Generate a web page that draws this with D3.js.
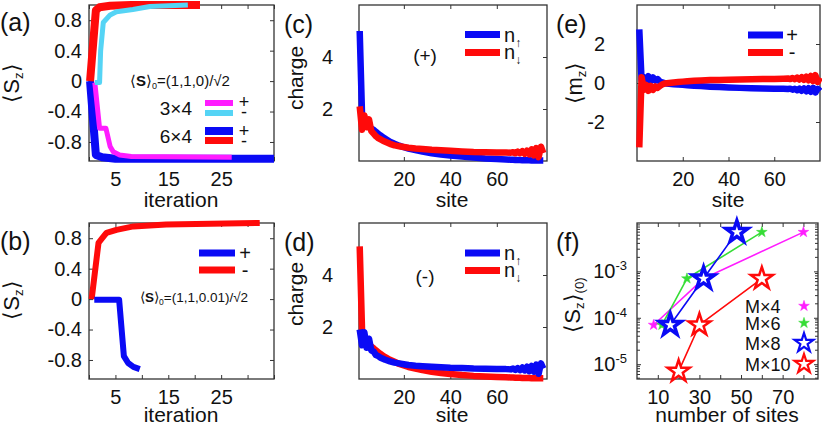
<!DOCTYPE html>
<html><head><meta charset="utf-8">
<script src="https://cdn.jsdelivr.net/npm/d3@7"></script>
<style>
body{margin:0;background:#fff}
svg{display:block}
text{font-family:"Liberation Sans",Arial,Helvetica,sans-serif;fill:#111}
</style>
</head><body>
<svg id="chart" width="822" height="426"></svg>
<script>
// ---------------- data ----------------
// (a) <S>0=(1,1,0)/sqrt2
const aIter3x4Plus  = [1.1, 2.0, 3.2, 4, 4.6, 5.8, 8, 27];
const aVal3x4Plus   = [-0.02, -0.62, -0.62, -0.86, -0.93, -0.97, -0.99, -1.0];
const aIter3x4Minus = [1.1, 2.0, 2.2, 2.7, 4, 5.2, 8.3, 11.5, 18.7];
const aVal3x4Minus  = [-0.02, -0.02, 0.4, 0.77, 0.87, 0.91, 0.94, 0.98, 1.0];
const aIter6x4Plus  = [0.2, 1.3, 2.5, 5, 35];
const aVal6x4Plus   = [0, -0.97, -1.0, -1.02, -1.02];
const aIter6x4Minus = [0.2, 1.3, 2, 4, 8, 21];
const aVal6x4Minus  = [0, 0.93, 0.97, 0.99, 1.0, 1.0];
// (b) <S>0=(1,1,0.01)/sqrt2
const bIterPlus  = [1.0, 5.7, 6.6, 7.4, 8.4, 9.6];
const bValPlus   = [-0.01, -0.01, -0.75, -0.84, -0.89, -0.92];
const bIterMinus = [0.5, 1.8, 2.5, 3.3, 5.2, 8.4, 14.6, 32.3];
const bValMinus  = [0, 0.74, 0.8, 0.87, 0.91, 0.955, 0.98, 1.0];
// sites for (c),(d),(e)
const sites = [1,2,3,4,5,6,7,8,9,10,11,12,14,16,18,20,22,25,28,32,36,40,45,50,55,60,64,66,67,68,69,70,71,72,73,74,75,76,77,78,79,80];
// (c) (+)
const cUp   = [5.0,1.8,1.45,1.35,1.3,1.25,1.2,1.12,1.05,0.98,0.92,0.86, 0.74,0.66,0.59,0.53,0.48,0.42,0.36,0.3,0.25,0.21,0.17,0.13,0.1,0.08,0.06, 0.05,0.05,0.04,0.04,0.04,0.03,0.03,0.03,0.03,0.02,0.02,0.02,0.02,0.02,0.02];
const cDown = [2.1,1.2,1.75,1.3,1.6,1.15,1.05,0.95,0.88,0.83,0.78,0.74, 0.66,0.6,0.57,0.54,0.51,0.48,0.46,0.43,0.41,0.39,0.37,0.35,0.34,0.33,0.33, 0.32,0.34,0.3,0.36,0.3,0.38,0.28,0.4,0.26,0.45,0.22,0.5,0.15,0.55,0.3];
// (d) (-)
const dUp   = [1.9,1.3,1.8,1.2,1.55,1.1,1.05,0.92,0.88,0.82,0.78,0.74, 0.68,0.63,0.6,0.57,0.54,0.51,0.49,0.47,0.45,0.43,0.42,0.4,0.39,0.38,0.38, 0.37,0.4,0.35,0.42,0.34,0.44,0.33,0.47,0.3,0.5,0.28,0.55,0.2,0.6,0.4];
const dDown = [5.1,1.9,1.5,1.4,1.32,1.25,1.18,1.1,1.03,0.96,0.9,0.84, 0.74,0.66,0.58,0.52,0.46,0.4,0.34,0.28,0.23,0.19,0.15,0.12,0.1,0.08,0.07, 0.06,0.06,0.05,0.05,0.05,0.04,0.04,0.04,0.04,0.03,0.03,0.03,0.03,0.03,0.03];
// (e) <m_z>
const ePlus  = [2.75,0.15,0.3,0.05,0.35,0.1,0.28,0.12,0.2,0.08,0.03,-0.01, -0.04,-0.06,-0.08,-0.09,-0.11,-0.14,-0.16,-0.19,-0.21,-0.23,-0.25,-0.27,-0.28,-0.29,-0.3, -0.31,-0.29,-0.34,-0.3,-0.37,-0.29,-0.4,-0.28,-0.42,-0.27,-0.45,-0.25,-0.48,-0.3,-0.42];
const eMinus = [-3.3,0.3,-0.35,-0.1,-0.4,-0.15,-0.35,-0.18,-0.25,-0.15,-0.08,-0.03, 0.0,0.03,0.05,0.07,0.09,0.11,0.13,0.15,0.16,0.17,0.18,0.19,0.2,0.21,0.22, 0.23,0.2,0.26,0.19,0.28,0.18,0.3,0.16,0.33,0.14,0.36,0.1,0.4,0.05,0.28];
// (f) <S_z>(0) vs number of sites
const fSitesM4  = [8, 32, 80];  const fValsM4  = [7e-5, 7e-4, 7e-3];
const fSitesM6  = [12, 24, 60]; const fValsM6  = [7e-5, 7e-4, 7e-3];
const fSitesM8  = [16, 32, 48]; const fValsM8  = [7e-5, 7e-4, 7e-3];
const fSitesM10 = [20, 30, 60]; const fValsM10 = [7e-6, 7e-5, 7e-4];
// tick labels
const aXTicks = [0,5,10,15,20,25,30,35], aXLabels = [5,15,25];
const aYTicks = [-0.8,-0.4,0,0.4,0.8];
const siteTicks = [20,40,60];
const chargeTicks = [2,4];
const mTicks = [-2,0,2];
const fXTicks = [10,20,30,40,50,60,70,80], fXLabels = [10,30,50,70];
const fYMajor = [1e-5,1e-4,1e-3];

// ---------------- colours ----------------
const BLUE="#0a0af5", RED="#ff0a0a", MAG="#ff1cff", CYAN="#55d4f5", GREEN="#36dd36";
const svg = d3.select("#chart");

function panel(o){
  const g = svg.append("g");
  const [x0,x1]=o.x.range(), [y0,y1]=o.y.range();
  const fs = 20;
  const style = sel => { sel.select(".domain").remove(); sel.attr("font-family",null).attr("font-size",fs);
    sel.selectAll(".tick line").attr("stroke","#333"); };
  const lab = (vals)=> (d)=> vals.includes(d) ? d : "";
  g.append("g").attr("transform",`translate(0,${y0})`)
    .call(d3.axisBottom(o.x).tickValues(o.xTicks).tickSize(-4).tickPadding(11).tickFormat(lab(o.xLabels))).call(style);
  g.append("g").attr("transform",`translate(0,${y1})`)
    .call(d3.axisTop(o.x).tickValues(o.xTicks).tickSize(-4).tickFormat("")).call(style);
  const yl = g.append("g").attr("transform",`translate(${x0},0)`)
    .call(d3.axisLeft(o.y).tickValues(o.yTicks).tickSize(-4).tickPadding(o.yPad).tickFormat(o.yFmt||(d=>d))).call(style);
  g.append("g").attr("transform",`translate(${x1},0)`)
    .call(d3.axisRight(o.y).tickValues(o.yTicks).tickSize(-4).tickFormat("")).call(style);
  g.append("rect").attr("x",x0).attr("y",y1).attr("width",x1-x0).attr("height",y0-y1)
    .attr("fill","none").attr("stroke","#333").attr("stroke-width",1.3);
  return {g, yl};
}
function drawLine(g, x, y, xs, ys, color, w){
  const pts = xs.map((v,i)=>[v, ys[i]]);
  g.append("path").datum(pts).attr("fill","none").attr("stroke",color).attr("stroke-width",w)
   .attr("stroke-linejoin","round").attr("stroke-linecap","butt")
   .attr("d", d3.line().x(d=>x(d[0])).y(d=>y(d[1])));
}
function txt(x,y,s,opt={}){
  return svg.append("text").attr("x",x).attr("y",y).attr("font-size",opt.fs||20)
    .attr("text-anchor",opt.anchor||"start").text(s);
}
function pm(x,y,gap){ // "+" over "-" in one text element
  const t=txt(x,y,"+",{fs:18,anchor:"middle"});
  t.append("tspan").attr("x",x).attr("dy",gap).text("-");
}
function nArrows(x,y){ // n↑ over n↓
  const t=svg.append("text").attr("x",x).attr("y",y).attr("font-size",20);
  t.append("tspan").text("n"); t.append("tspan").attr("font-size",12).attr("dy",5).text("↑");
  t.append("tspan").attr("x",x).attr("dy",12).text("n"); t.append("tspan").attr("font-size",12).attr("dy",5).text("↓");
}
function ylabel(x,y,parts,fs){
  const t = svg.append("text").attr("transform",`translate(${x},${y}) rotate(-90)`)
    .attr("text-anchor","middle").attr("font-size",fs);
  parts.forEach(p=>{ const ts=t.append("tspan").text(p.t);
    if(p.sub){ ts.attr("font-size",fs*0.6).attr("dy",p.dy); } else if(p.dy){ ts.attr("dy",p.dy);} });
  return t;
}
function legLine(g,x1,x2,y,color,w){
  g.append("line").attr("x1",x1).attr("x2",x2).attr("y1",y).attr("y2",y).attr("stroke",color).attr("stroke-width",w);
}

// ---------------- (a) ----------------
{
  const x=d3.scaleLinear().domain([0,35]).range([89,274]);
  const y=d3.scaleLinear().domain([-1.05,1]).range([161,5]);
  const {g}=panel({x,y,xTicks:aXTicks,xLabels:aXLabels,yTicks:aYTicks,yPad:7});
  drawLine(g,x,y,aIter6x4Plus,aVal6x4Plus,BLUE,8);
  drawLine(g,x,y,aIter6x4Minus,aVal6x4Minus,RED,8);
  drawLine(g,x,y,aIter3x4Plus,aVal3x4Plus,MAG,5);
  drawLine(g,x,y,aIter3x4Minus,aVal3x4Minus,CYAN,5);
  const t=txt(130,86,"⟨",{fs:15}); t.append("tspan").attr("font-weight","bold").text("S"); t.append("tspan").text("⟩");
  t.append("tspan").attr("font-size",9).attr("dy",3).text("0"); t.append("tspan").attr("dy",-3).text("=(1,1,0)/√2");
  txt(192,115,"3×4",{fs:19,anchor:"end"}); txt(192,143,"6×4",{fs:19,anchor:"end"});
  legLine(g,205,233,103,MAG,6); legLine(g,205,233,113,CYAN,6);
  legLine(g,205,233,131,BLUE,8); legLine(g,205,233,140.5,RED,7);
  pm(244,108,10); pm(244,137,10);
  txt(0,31,"(a)",{fs:25});
  ylabel(19,83,[{t:"⟨S"},{t:"z",sub:true,dy:4},{t:"⟩",dy:-4}],22);
  txt(181,207,"iteration",{fs:21,anchor:"middle"});
}
// ---------------- (b) ----------------
{
  const x=d3.scaleLinear().domain([0,35]).range([89,274]);
  const y=d3.scaleLinear().domain([-1.05,1]).range([379,223]);
  const {g}=panel({x,y,xTicks:aXTicks,xLabels:aXLabels,yTicks:aYTicks,yPad:7});
  drawLine(g,x,y,bIterMinus,bValMinus,RED,6);
  drawLine(g,x,y,bIterPlus,bValPlus,BLUE,6);
  legLine(g,199,235,253,BLUE,7); legLine(g,199,235,270,RED,7);
  const p=txt(245,260,"+",{fs:20,anchor:"middle"}); p.append("tspan").attr("x",245).attr("dy",17).text("-");
  const t=txt(140,302,"⟨",{fs:13.5}); t.append("tspan").attr("font-weight","bold").text("S"); t.append("tspan").text("⟩");
  t.append("tspan").attr("font-size",8.5).attr("dy",3).text("0"); t.append("tspan").attr("dy",-3).text("=(1,1,0.01)/√2");
  txt(0,250,"(b)",{fs:25});
  ylabel(19,300,[{t:"⟨S"},{t:"z",sub:true,dy:4},{t:"⟩",dy:-4}],22);
  txt(181,422,"iteration",{fs:21,anchor:"middle"});
}
// ---------------- (c) ----------------
{
  const x=d3.scaleLinear().domain([0.7,81.6]).range([359,547]);
  const y=d3.scaleLinear().domain([0,6]).range([161,5]);
  const {g}=panel({x,y,xTicks:siteTicks,xLabels:siteTicks,yTicks:chargeTicks,yPad:26});
  drawLine(g,x,y,sites,cUp,BLUE,6.5);
  drawLine(g,x,y,sites,cDown,RED,6.5);
  legLine(g,465,500,34.5,BLUE,7); legLine(g,465,500,52.5,RED,7);
  nArrows(504,42);
  txt(425,62,"(+)",{fs:19,anchor:"middle"});
  txt(284,33,"(c)",{fs:25});
  ylabel(303,78,[{t:"charge"}],21);
  txt(452,207,"site",{fs:21,anchor:"middle"});
}
// ---------------- (d) ----------------
{
  const x=d3.scaleLinear().domain([0.7,81.6]).range([359,547]);
  const y=d3.scaleLinear().domain([0,6]).range([379,223]);
  const {g}=panel({x,y,xTicks:siteTicks,xLabels:siteTicks,yTicks:chargeTicks,yPad:26});
  drawLine(g,x,y,sites,dDown,RED,6.5);
  drawLine(g,x,y,sites,dUp,BLUE,6.5);
  legLine(g,465,500,253,BLUE,7); legLine(g,465,500,270.5,RED,7);
  nArrows(504,260);
  txt(425,283,"(-)",{fs:19,anchor:"middle"});
  txt(284,251,"(d)",{fs:25});
  ylabel(303,294,[{t:"charge"}],21);
  txt(452,422,"site",{fs:21,anchor:"middle"});
}
// ---------------- (e) ----------------
{
  const x=d3.scaleLinear().domain([0,80]).range([637,820]);
  const y=d3.scaleLinear().domain([-4,4]).range([161,5]);
  const {g}=panel({x,y,xTicks:siteTicks,xLabels:siteTicks,yTicks:mTicks,yPad:32});
  drawLine(g,x,y,sites,ePlus,BLUE,6.5);
  drawLine(g,x,y,sites,eMinus,RED,6.5);
  legLine(g,748,783,35,BLUE,7); legLine(g,748,783,52.5,RED,7);
  const p=txt(792,42,"+",{fs:20,anchor:"middle"}); p.append("tspan").attr("x",792).attr("dy",17).text("-");
  txt(556,33,"(e)",{fs:25});
  ylabel(582,83,[{t:"⟨m"},{t:"z",sub:true,dy:4},{t:"⟩",dy:-4}],22);
  txt(728,207,"site",{fs:21,anchor:"middle"});
}
// ---------------- (f) ----------------
{
  const x=d3.scaleLinear().domain([0,87]).range([637,818]);
  const y=d3.scaleLog().domain([4.8e-6,1.1e-2]).range([379,223]);
  const {g,yl}=panel({x,y,xTicks:fXTicks,xLabels:fXLabels,yTicks:fYMajor,yPad:10,yFmt:d=>""});
  yl.selectAll(".tick text").each(function(d){
    const s=d3.select(this); s.text("10");
    s.append("tspan").attr("font-size",13).attr("dy",-8).text(String(Math.round(Math.log10(d))));
  });
  const minor=[];
  [1e-6,1e-5,1e-4,1e-3].forEach(dec=>{for(let k=2;k<=9;k++){const v=dec*k; if(v>=4.8e-6&&v<=1.1e-2) minor.push(v);}});
  minor.push(1e-2);
  [[637,1],[818,-1]].forEach(([xx,dir])=>{
    g.append("g").selectAll("line").data(minor).join("line")
      .attr("x1",xx).attr("x2",xx+dir*3).attr("y1",d=>y(d)).attr("y2",d=>y(d)).attr("stroke","#333");
  });
  const series=[[fSitesM4,fValsM4,MAG,"small"],[fSitesM6,fValsM6,GREEN,"small"],[fSitesM8,fValsM8,BLUE,"big"],[fSitesM10,fValsM10,RED,"big"]];
  const starSmall=d3.symbol(d3.symbolStar,36), starBig=d3.symbol(d3.symbolStar,150);
  series.forEach(([xs,ys,c,k])=>{
    drawLine(g,x,y,xs,ys,c,1.6);
    g.append("g").selectAll("path").data(xs.map((v,i)=>[v,ys[i]])).join("path")
      .attr("transform",d=>`translate(${x(d[0])},${y(d[1])})`)
      .attr("d",k==="small"?starSmall:starBig)
      .attr("fill",k==="small"?c:"#fff").attr("stroke",c).attr("stroke-width",k==="small"?0.5:(c===BLUE?3.5:2.5))
      .attr("stroke-linejoin","miter");
  });
  const legY=[306,323,343,364], labels=["M×4","M×6","M×8","M×10"];
  labels.forEach((l,i)=>{
    txt(745,legY[i]+7,l,{fs:18});
    const [, , c, k]=series[i];
    g.append("path").attr("transform",`translate(804,${legY[i]})`)
      .attr("d",k==="small"?starSmall:d3.symbol(d3.symbolStar,110))
      .attr("fill",k==="small"?c:"#fff").attr("stroke",c).attr("stroke-width",k==="small"?0.5:2.2);
  });
  txt(556,251,"(f)",{fs:25});
  ylabel(580,305,[{t:"⟨S"},{t:"z",sub:true,dy:4},{t:"⟩",dy:-4},{t:"(0)",sub:true,dy:4}],22);
  txt(727,422,"number of sites",{fs:21,anchor:"middle"});
}
</script>
</body></html>
